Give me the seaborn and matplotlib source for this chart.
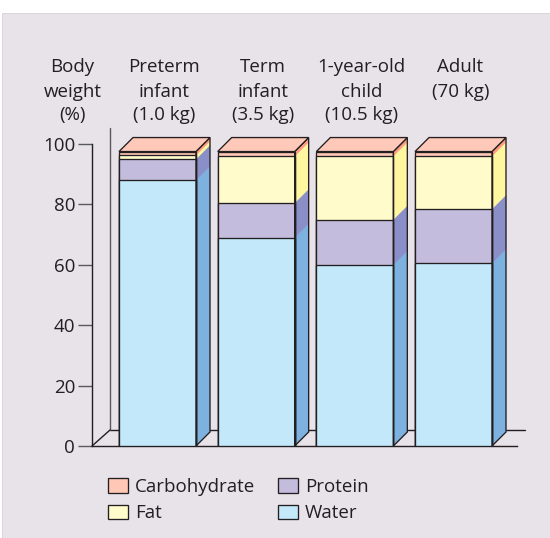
import matplotlib
matplotlib.use("Agg")
import matplotlib.pyplot as plt
from matplotlib.patches import Polygon, Rectangle, Patch
import numpy as np
import pandas as pd
import seaborn as sns

# ---- data (percent of body weight) ----
categories = ["Preterm infant", "Term infant", "1-year-old child", "Adult"]
header_labels = ["Preterm\ninfant\n(1.0 kg)", "Term\ninfant\n(3.5 kg)",
                 "1-year-old\nchild\n(10.5 kg)", "Adult\n(70 kg)"]
water = [88.0, 69.0, 60.0, 60.5]
protein = [7.0, 11.5, 15.0, 18.0]
fat = [1.3, 15.5, 21.0, 17.5]
carbohydrate = [1.2, 1.5, 1.5, 1.5]
yticks = [0, 20, 40, 60, 80, 100]
legend_labels = ["Carbohydrate", "Fat", "Protein", "Water"]

# ---- styling ----
INK = "#231f20"
AXIS_GREY = "#58595b"
BG = "#e8e2e9"
front = {"water": "#c2e8f9", "protein": "#c3bcdc", "fat": "#fffbcb", "carb": "#ffc8b6"}
side = {"water": "#7db1df", "protein": "#8b8fc8", "fat": "#fff6a0", "carb": "#ff9c82"}
TOP = "#ffc9b9"
FS = 13.5

sns.set_style("white")
plt.rcParams["font.family"] = ["Open Sans", "DejaVu Sans"]
plt.rcParams["text.color"] = INK

W, H = 550, 538
fig = plt.figure(figsize=(W / 100, H / 100), dpi=100)
fig.patch.set_facecolor("white")
fig.add_artist(Rectangle((2 / W, 0), 1 - 2 / W, 1 - 13 / H, transform=fig.transFigure,
                         facecolor=BG, edgecolor="#d6cfd8", lw=0.6, zorder=0))

# front plane of the plot: y from 0 to 100
ax_left_px, ax_right_px, y0_px, y100_px = 92, 517, 446, 144
ax = fig.add_axes([ax_left_px / W, (H - y0_px) / H,
                   (ax_right_px - ax_left_px) / W, (y0_px - y100_px) / H])
ax.set_facecolor("none")

px_per_cat = 98.67
first_center_px = 157.5
x_lo = (ax_left_px - first_center_px) / px_per_cat
x_hi = (ax_right_px - first_center_px) / px_per_cat
px_per_unit_y = (y0_px - y100_px) / 100.0

bar_w = 0.78
dx, dy = 14 / px_per_cat, 14 / px_per_unit_y        # bar depth
dxf, dyf = 18 / px_per_cat, 16 / px_per_unit_y      # floor/wall depth

df = pd.DataFrame({"group": categories, "water": water, "protein": protein,
                   "fat": fat, "carb": carbohydrate})
df["c_water"] = df["water"]
df["c_protein"] = df["c_water"] + df["protein"]
df["c_fat"] = df["c_protein"] + df["fat"]
df["c_carb"] = df["c_fat"] + df["carb"]

# back wall and floor (behind the bars)
ax.plot([x_lo + dxf, (525 - first_center_px) / px_per_cat], [dyf, dyf],
        color=INK, lw=1.0, clip_on=False, zorder=1)
ax.plot([x_lo + dxf, x_lo + dxf], [dyf, 100 + dyf], color=AXIS_GREY, lw=1.0,
        clip_on=False, zorder=1)
ax.plot([x_lo, x_lo + dxf], [0, dyf], color=INK, lw=1.0, clip_on=False, zorder=1)

# front faces: cumulative stacks drawn from the tallest down
for key in ["carb", "fat", "protein", "water"]:
    sns.barplot(data=df, x="group", y=f"c_{key}", color=front[key], saturation=1,
                width=bar_w, edgecolor=INK, linewidth=0.95, errorbar=None,
                ax=ax, zorder=3)

# side and top faces
order = ["water", "protein", "fat", "carb"]
for i in range(len(categories)):
    left = i - bar_w / 2
    right = i + bar_w / 2
    bottom = 0.0
    for key in order:
        topv = bottom + df.loc[i, key]
        ax.add_patch(Polygon([(right, bottom), (right + dx, bottom + dy),
                              (right + dx, topv + dy), (right, topv)],
                             closed=True, facecolor=side[key], edgecolor=side[key],
                             lw=0.3, clip_on=False, zorder=2))
        bottom = topv
    total = bottom
    ax.add_patch(Polygon([(right, 0), (right + dx, dy), (right + dx, total + dy),
                          (right, total)], closed=True, fill=False, edgecolor=INK,
                         lw=0.95, clip_on=False, zorder=4))
    ax.add_patch(Polygon([(left, total), (left + dx, total + dy),
                          (right + dx, total + dy), (right, total)], closed=True,
                         facecolor=TOP, edgecolor=INK, lw=0.95, clip_on=False,
                         zorder=4))

ax.set_xlim(x_lo, x_hi)
ax.set_ylim(0, 100)
ax.set_xticks([])
ax.set_xlabel("")
ax.set_ylabel("")
sns.despine(ax=ax)
for s in ["left", "bottom"]:
    ax.spines[s].set_color(INK)
    ax.spines[s].set_linewidth(1.0)
ax.set_yticks(yticks)
ax.tick_params(axis="y", left=True, length=10, width=1.0, color=AXIS_GREY, pad=2.2,
               labelsize=FS, labelcolor=INK)

# column headers
baselines_px = [71.7, 96.7, 120.0]
to_y = lambda p: (y0_px - p) / px_per_unit_y
for i, lab in enumerate(header_labels):
    for j, line in enumerate(lab.split("\n")):
        ax.text(i + dx / 2, to_y(baselines_px[j]), line, ha="center", va="baseline",
                fontsize=FS, color=INK, clip_on=False)
for j, line in enumerate(["Body", "weight", "(%)"]):
    ax.text((72.5 - first_center_px) / px_per_cat, to_y(baselines_px[j]), line,
            ha="center", va="baseline", fontsize=FS, color=INK, clip_on=False)

# legend
leg_colors = [front["carb"], front["fat"], front["protein"], front["water"]]
handles = [Patch(facecolor=c, edgecolor=INK, lw=0.95, label=l)
           for c, l in zip(leg_colors, legend_labels)]
fig.legend(handles=handles, ncol=2, loc="upper left",
           bbox_to_anchor=(108 / W, 1 - 478 / H), bbox_transform=fig.transFigure,
           frameon=False, borderpad=0, borderaxespad=0, handlelength=1.07,
           handleheight=0.8, handletextpad=0.37, columnspacing=1.2,
           labelspacing=0.45, fontsize=FS)

fig.savefig("out.png", dpi=100, facecolor="white")
